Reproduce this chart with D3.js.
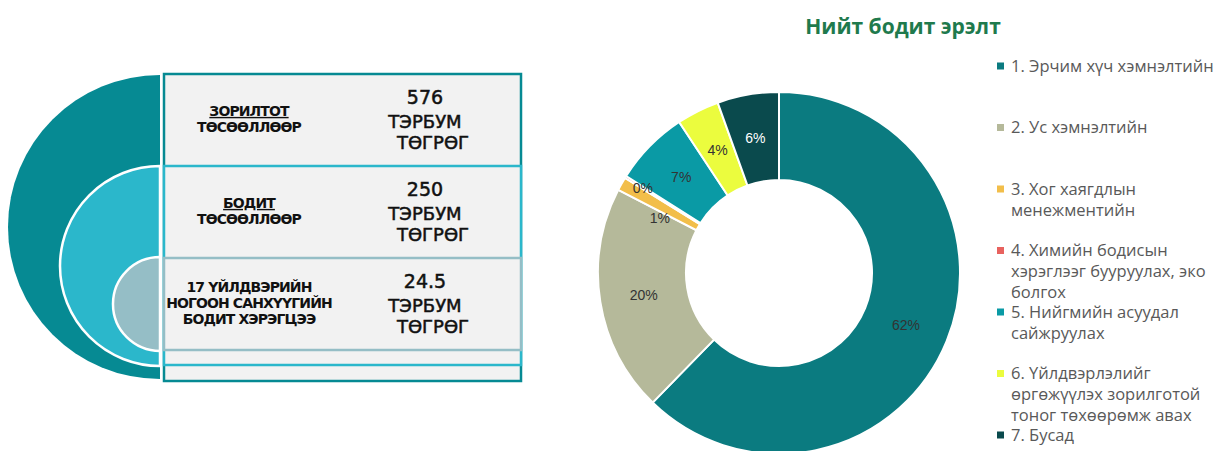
<!DOCTYPE html>
<html>
<head>
<meta charset="utf-8">
<script src="https://cdn.jsdelivr.net/npm/d3@7"></script>
<style>
  body { margin: 0; background: #fff; }
  svg { display: block; }
</style>
</head>
<body>
<div id="my_chart"></div>
<script>
// Data
const tierLabels = [
    [`ЗОРИЛТОТ`, `ТӨСӨӨЛЛӨӨР`],
    [`БОДИТ`, `ТӨСӨӨЛЛӨӨР`],
    [`17 ҮЙЛДВЭРИЙН`, `НОГООН САНХҮҮГИЙН`, `БОДИТ ХЭРЭГЦЭЭ`]
];
const tierValues = [`576`, `250`, `24.5`];
const tierUnit = [`ТЭРБУМ`, `ТӨГРӨГ`];

const title = `Нийт бодит эрэлт`;
const categories = [
    [`1. Эрчим хүч хэмнэлтийн`],
    [`2. Ус хэмнэлтийн`],
    [`3. Хог хаягдлын`, `менежментийн`],
    [`4. Химийн бодисын`, `хэрэглээг бууруулах, эко`, `болгох`],
    [`5. Нийгмийн асуудал`, `сайжруулах`],
    [`6. Үйлдвэрлэлийг`, `өргөжүүлэх зорилготой`, `тоног төхөөрөмж авах`],
    [`7. Бусад`]
];
const shares = [62.3, 20.3, 1.2, 0.2, 6.7, 3.8, 5.5];

// Constant
const width = 1217;
const height = 451;
const sliceColors = [`#0b7b80`, `#b5b99a`, `#f2be4a`, `#e8625e`, `#0a9aa5`, `#ebfc3e`, `#0a4a4d`];
const labelColors = [`#333`, `#333`, `#333`, `#333`, `#333`, `#333`, `#fff`];
const labelNudge = [[0, 0], [0, 0], [0, 13], [-20, -12], [0, 0], [0, 0], [0, 0]];

const tierColors = [`#068a93`, `#2bb7cb`, `#95bec6`];
const discX = 160;
const discY = [227, 266, 304];
const discR = [152, 100, 47];
const rectX = 164;
const rectW = 357;
const rectTop = [74, 166, 258];
const rectBottom = [381, 365, 350];

const pieCx = 779;
const pieCy = 273;
const innerR = 93;
const outerR = 181;

const leftFont = `DejaVu Sans`;
const legendFont = `Open Sans`;

document.addEventListener(`DOMContentLoaded`, function () {
    const svg = d3.select(`#my_chart`)
        .append(`svg`)
        .attr(`width`, width)
        .attr(`height`, height);

    drawTiers(svg);
    drawDonut(svg);
});

const drawTiers = (svg) => {
    const g = svg.append(`g`);
    const halfDisc = d3.arc().innerRadius(0).startAngle(Math.PI).endAngle(2 * Math.PI);

    tierLabels.forEach((lines, i) => {
        g.append(`path`)
            .attr(`d`, halfDisc.outerRadius(discR[i])())
            .attr(`transform`, `translate(${discX},${discY[i]})`)
            .attr(`fill`, tierColors[i])
            .attr(`stroke`, i === 0 ? `none` : `#fff`)
            .attr(`stroke-width`, 2.5);

        g.append(`rect`)
            .attr(`x`, rectX)
            .attr(`y`, rectTop[i])
            .attr(`width`, rectW)
            .attr(`height`, rectBottom[i] - rectTop[i])
            .attr(`fill`, `#f2f2f2`)
            .attr(`stroke`, tierColors[i])
            .attr(`stroke-width`, 2.5);
    });

    // texts on top of every box
    tierLabels.forEach((lines, i) => {
        const top = rectTop[i];
        const start = top + 45 - (lines.length - 1) * 8;
        lines.forEach((t, j) => {
            g.append(`text`)
                .attr(`x`, 249)
                .attr(`y`, start + j * 16)
                .attr(`dy`, `0.35em`)
                .attr(`text-anchor`, `middle`)
                .style(`font`, `bold 14px ${leftFont}`)
                .style(`letter-spacing`, `-0.9px`)
                .style(`text-decoration`, (j === 0 && i < 2) ? `underline` : `none`)
                .attr(`fill`, `#111`)
                .text(t);
        });

        [tierValues[i], ...tierUnit].forEach((t, j) => {
            g.append(`text`)
                .attr(`x`, 425 + (j === 2 ? 8 : 0))
                .attr(`y`, top + [23, 48, 69][j])
                .attr(`dy`, `0.35em`)
                .attr(`text-anchor`, `middle`)
                .style(`font`, `${j === 0 ? 19 : 18}px ${leftFont}`)
                .attr(`fill`, `#111`)
                .attr(`stroke`, `#111`)
                .attr(`stroke-width`, 0.5)
                .text(t);
        });
    });
}

const drawDonut = (svg) => {
    svg.append(`text`)
        .attr(`x`, 903)
        .attr(`y`, 34)
        .attr(`text-anchor`, `middle`)
        .style(`font`, `bold 21px ${legendFont}`)
        .attr(`fill`, `#1f7a4d`)
        .text(title);

    const pie = d3.pie().sort(null).value(d => d);
    const arc = d3.arc().innerRadius(innerR).outerRadius(outerR);
    const arcs = pie(shares);

    const g = svg.append(`g`)
        .attr(`transform`, `translate(${pieCx},${pieCy})`);

    g.selectAll(`path`)
        .data(arcs)
        .join(`path`)
        .attr(`d`, arc)
        .attr(`fill`, (d, i) => sliceColors[i])
        .attr(`stroke`, `#fff`)
        .attr(`stroke-width`, 2);

    g.selectAll(`text`)
        .data(arcs)
        .join(`text`)
        .attr(`transform`, (d, i) => {
            const c = arc.centroid(d);
            return `translate(${c[0] + labelNudge[i][0]},${c[1] + labelNudge[i][1]})`;
        })
        .attr(`dy`, `0.35em`)
        .attr(`text-anchor`, `middle`)
        .style(`font`, `14px Liberation Sans`)
        .attr(`fill`, (d, i) => labelColors[i])
        .text(d => `${Math.round(d.data)}%`);

    // legend
    const legend = svg.append(`g`);
    categories.forEach((lines, i) => {
        const y = 66 + i * 61.5;
        legend.append(`rect`)
            .attr(`x`, 997)
            .attr(`y`, y - 3.5)
            .attr(`width`, 7)
            .attr(`height`, 7)
            .attr(`fill`, sliceColors[i]);

        lines.forEach((t, j) => {
            legend.append(`text`)
                .attr(`x`, 1011)
                .attr(`y`, y + j * 21)
                .attr(`dy`, `0.35em`)
                .style(`font`, `16.5px ${legendFont}`)
                .attr(`fill`, `#595959`)
                .text(t);
        });
    });
}
</script>
</body>
</html>
